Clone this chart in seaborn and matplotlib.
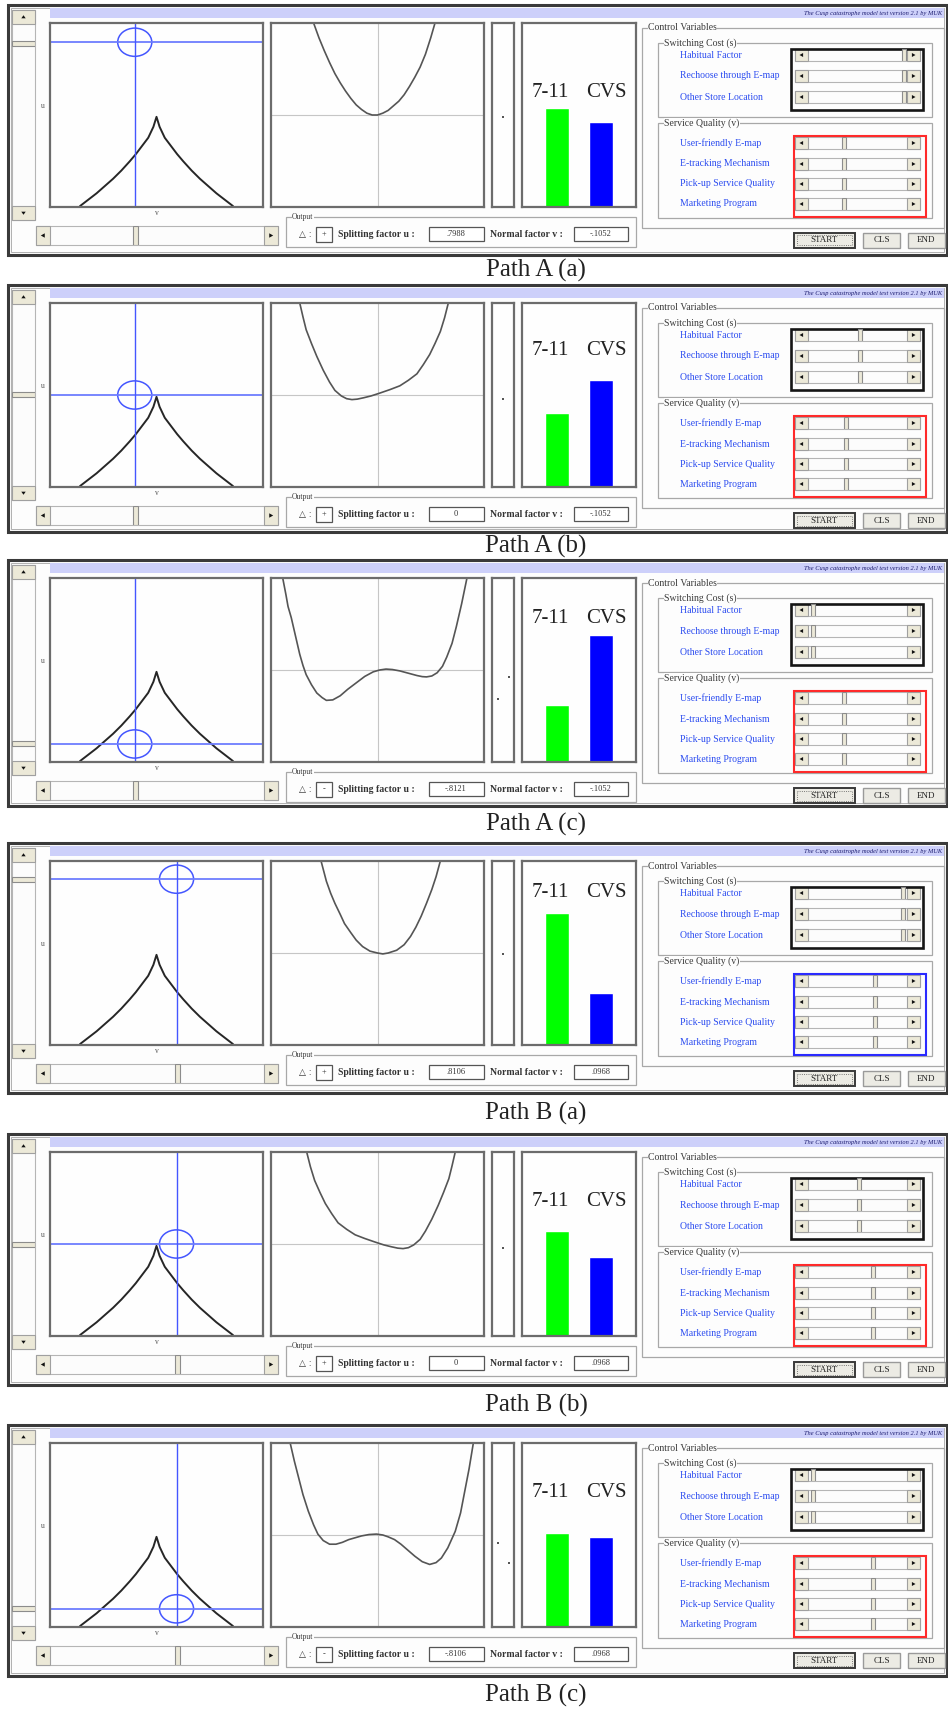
import numpy as np
import pandas as pd
import matplotlib
matplotlib.use("Agg")
from matplotlib import pyplot as plt
from matplotlib.patches import Rectangle, Ellipse, Polygon
import seaborn as sns

# Read-outs of the six screenshots:
captions = ["Path A (a)", "Path A (b)", "Path A (c)", "Path B (a)", "Path B (b)", "Path B (c)"]
u_values = [0.7988, 0.0, -0.8121, 0.8106, 0.0, -0.8106]
v_values = [-0.1052, -0.1052, -0.1052, 0.0968, 0.0968, 0.0968]
u_text = [".7988", "0", "-.8121", ".8106", "0", "-.8106"]
v_text = ["-.1052", "-.1052", "-.1052", ".0968", ".0968", ".0968"]
delta_sign = ["+", "+", "-", "+", "+", "-"]

# market share bars
stores = ["7-11", "CVS"]
share_711 = [0.54, 0.40, 0.31, 0.72, 0.57, 0.51]
share_cvs = [0.46, 0.58, 0.69, 0.28, 0.43, 0.49]
label_level = [0.62, 0.74, 0.78, 0.83, 0.73, 0.73]

# slider settings in the control panel (0 = left end, 1 = right end)
switch_labels = ["Habitual Factor", "Rechoose through E-map", "Other Store Location"]
service_labels = ["User-friendly E-map", "E-tracking Mechanism", "Pick-up Service Quality", "Marketing Program"]
switch_pos = [0.97, 0.53, 0.05, 0.96, 0.52, 0.05]
service_pos = [0.36, 0.38, 0.36, 0.68, 0.66, 0.66]
service_box = ["#ff2a2a", "#ff2a2a", "#ff2a2a", "#2a2aff", "#ff2a2a", "#ff2a2a"]

# bifurcation set
cusp_v = [-0.37, -0.33, -0.29, -0.25, -0.21, -0.17, -0.13, -0.10, -0.07, -0.04, -0.015, 0.0,
          0.015, 0.04, 0.07, 0.10, 0.13, 0.17, 0.21, 0.25, 0.29, 0.33, 0.37]
cusp_u = [-1.0, -0.93, -0.86, -0.78, -0.70, -0.61, -0.51, -0.43, -0.34, -0.25, -0.13, -0.02,
          -0.13, -0.25, -0.34, -0.43, -0.51, -0.61, -0.70, -0.78, -0.86, -0.93, -1.0]

# potential curves (box scaled to -1..1)
pot_aa_x = [-0.60, -0.55, -0.50, -0.45, -0.40, -0.35, -0.30, -0.25, -0.20, -0.15, -0.10, -0.05,
            0.0, 0.05, 0.10, 0.15, 0.20, 0.25, 0.30, 0.35, 0.40, 0.45, 0.50, 0.54]
pot_aa_y = [1.0, 0.84, 0.70, 0.57, 0.45, 0.35, 0.26, 0.18, 0.11, 0.06, 0.02, 0.0,
            0.0, 0.02, 0.05, 0.10, 0.15, 0.22, 0.31, 0.41, 0.52, 0.66, 0.84, 1.0]
pot_ab_x = [-0.73, -0.70, -0.67, -0.62, -0.57, -0.51, -0.45, -0.40, -0.34, -0.29, -0.24, -0.19,
            -0.13, -0.06, 0.02, 0.12, 0.21, 0.29, 0.37, 0.43, 0.49, 0.54, 0.59, 0.63, 0.665]
pot_ab_y = [1.0, 0.85, 0.71, 0.56, 0.42, 0.27, 0.14, 0.05, -0.01, -0.04, -0.05, -0.045,
            -0.03, -0.01, 0.02, 0.06, 0.10, 0.16, 0.23, 0.33, 0.44, 0.56, 0.69, 0.84, 1.0]
pot_ac_x = [-0.89, -0.86, -0.84, -0.81, -0.79, -0.76, -0.73, -0.70, -0.67, -0.62, -0.57, -0.52,
            -0.48, -0.42, -0.35, -0.28, -0.20, -0.12, -0.04, 0.02, 0.08, 0.14, 0.21, 0.29,
            0.37, 0.42, 0.46, 0.51, 0.56, 0.61, 0.65, 0.70, 0.74, 0.79, 0.84]
pot_ac_y = [1.0, 0.82, 0.69, 0.57, 0.47, 0.32, 0.17, 0.05, -0.05, -0.16, -0.25, -0.30,
            -0.33, -0.325, -0.28, -0.21, -0.14, -0.07, -0.02, 0.0, 0.01, 0.005, -0.01, -0.035,
            -0.06, -0.072, -0.075, -0.065, -0.03, 0.04, 0.14, 0.29, 0.47, 0.72, 1.0]
pot_ba_x = [-0.53, -0.48, -0.44, -0.40, -0.35, -0.31, -0.25, -0.20, -0.14, -0.07, 0.0, 0.05,
            0.10, 0.18, 0.25, 0.31, 0.36, 0.41, 0.46, 0.51, 0.55, 0.59]
pot_ba_y = [1.0, 0.78, 0.65, 0.54, 0.42, 0.32, 0.22, 0.14, 0.07, 0.02, 0.0, -0.01,
            0.0, 0.03, 0.09, 0.18, 0.28, 0.40, 0.54, 0.69, 0.83, 1.0]
pot_bb_x = [-0.665, -0.63, -0.59, -0.54, -0.49, -0.43, -0.37, -0.29, -0.21, -0.12, -0.02, 0.06,
            0.13, 0.19, 0.24, 0.29, 0.34, 0.40, 0.45, 0.51, 0.57, 0.62, 0.67, 0.70, 0.73]
pot_bb_y = [1.0, 0.84, 0.69, 0.56, 0.44, 0.33, 0.23, 0.16, 0.10, 0.06, 0.02, -0.01,
            -0.03, -0.045, -0.05, -0.04, -0.01, 0.05, 0.14, 0.27, 0.42, 0.56, 0.71, 0.85, 1.0]
pot_bc_x = [-0.82, -0.78, -0.74, -0.70, -0.65, -0.60, -0.56, -0.51, -0.45, -0.39, -0.33, -0.27,
            -0.21, -0.15, -0.08, -0.01, 0.05, 0.10, 0.16, 0.22, 0.28, 0.35, 0.42, 0.49,
            0.55, 0.60, 0.66, 0.73, 0.78, 0.82, 0.86, 0.90]
pot_bc_y = [1.0, 0.80, 0.62, 0.44, 0.26, 0.11, 0.01, -0.06, -0.10, -0.10, -0.08, -0.05,
            -0.03, -0.01, 0.005, 0.01, 0.0, -0.02, -0.05, -0.10, -0.16, -0.23, -0.29, -0.32,
            -0.30, -0.25, -0.14, 0.04, 0.24, 0.48, 0.72, 1.0]
pot_x = [pot_aa_x, pot_ab_x, pot_ac_x, pot_ba_x, pot_bb_x, pot_bc_x]
pot_y = [pot_aa_y, pot_ab_y, pot_ac_y, pot_ba_y, pot_bb_y, pot_bc_y]

# well depths shown as dots in the narrow strip (-1 left well, 0 single, 1 right well)
well_side = [[0], [0], [-1, 1], [0], [0], [-1, 1]]
well_depth = [[-0.02], [-0.04], [-0.32, -0.08], [-0.01], [-0.04], [-0.09, -0.30]]

title = "The Cusp catastrophe model test version 2.1 by MUK"

# layout (pixels)
panel_top = [5, 285, 560, 843, 1134, 1425]
panel_h = [250, 247, 246, 250, 251, 251]
caption_y = [270, 546, 824, 1113, 1405, 1695]
W, H = 948, 1710

sns.set_style("white")
plt.rcParams['font.family'] = ['Liberation Serif', 'DejaVu Sans']

fig = plt.figure(figsize=(W / 100, H / 100), dpi=100)
fig.patch.set_facecolor("white")
bg = fig.add_axes([0, 0, 1, 1])
bg.set_xlim(0, W)
bg.set_ylim(H, 0)
bg.axis("off")

cross_c = "#4456ff"


def rect(x0, y0, x1, y1, fc="none", ec="#7a7a7a", lw=1.0, z=1, ls="-"):
    bg.add_patch(Rectangle((x0, y0), x1 - x0, y1 - y0, fc=fc, ec=ec, lw=lw, zorder=z, ls=ls))


def px_axes(x0, y0, x1, y1):
    return fig.add_axes([x0 / W, 1 - y1 / H, (x1 - x0) / W, (y1 - y0) / H])


def box_style(ax):
    ax.set_xticks([])
    ax.set_yticks([])
    ax.set_xlabel("")
    ax.set_ylabel("")
    ax.set_facecolor("#fefefe")
    for s in ax.spines.values():
        s.set_color("#6c6c6c")
        s.set_linewidth(1.6)


def arrow_btn(x0, y0, x1, y1, direction, s=2.2):
    rect(x0, y0, x1, y1, fc="#ece9d8", ec="#a0a0a0", lw=0.8, z=3)
    cx, cy = (x0 + x1) / 2, (y0 + y1) / 2
    if direction == "left":
        pts = [(cx - s, cy), (cx + s * 0.8, cy - s), (cx + s * 0.8, cy + s)]
    elif direction == "right":
        pts = [(cx + s, cy), (cx - s * 0.8, cy - s), (cx - s * 0.8, cy + s)]
    elif direction == "up":
        pts = [(cx, cy - s * 0.8), (cx - s, cy + s * 0.6), (cx + s, cy + s * 0.6)]
    else:
        pts = [(cx, cy + s * 0.8), (cx - s, cy - s * 0.6), (cx + s, cy - s * 0.6)]
    bg.add_patch(Polygon(pts, closed=True, fc="#111111", ec="none", zorder=4))


def scrollbar(x0, y0, x1, y1, value, lim, arrow, vertical=False, thumb=2.5, s=2.2):
    rect(x0, y0, x1, y1, fc="#fcfcfc", ec="#b5b5b5", lw=0.8, z=2)
    if vertical:
        arrow_btn(x0, y0, x1, y0 + arrow, "up", s)
        arrow_btn(x0, y1 - arrow, x1, y1, "down", s)
        ax = px_axes(x0, y0 + arrow, x1, y1 - arrow)
        ax.set_ylim(lim)
        half = thumb * (lim[1] - lim[0]) / (y1 - y0 - 2 * arrow)
        ax.axhspan(value - half, value + half, fc="#ece9d8", ec="#8c8c8c", lw=0.8)
    else:
        arrow_btn(x0, y0, x0 + arrow, y1, "left", s)
        arrow_btn(x1 - arrow, y0, x1, y1, "right", s)
        ax = px_axes(x0 + arrow, y0, x1 - arrow, y1)
        ax.set_xlim(lim)
        half = thumb * (lim[1] - lim[0]) / (x1 - x0 - 2 * arrow)
        ax.axvspan(value - half, value + half, fc="#ece9d8", ec="#8c8c8c", lw=0.8)
    ax.set_axis_off()


def group(x0, y0, x1, y1, label, fs=7):
    rect(x0, y0, x1, y1, ec="#a8a8a8", lw=0.9)
    bg.text(x0 + 6, y0, label, fontsize=fs, color="#3a3a3a", va="center", ha="left",
            bbox=dict(fc="#fdfdfd", ec="none", pad=0.3), zorder=5)


for i in range(6):
    T = panel_top[i]
    u, v = u_values[i], v_values[i]

    # window
    rect(8, T, 947, T + panel_h[i], fc="#fdfdfd", ec="#3a3a3a", lw=2.2, z=0)
    rect(11, T + 3, 944, T + panel_h[i] - 3, ec="#b0b0b0", lw=0.7, z=0)
    rect(50, T + 3, 944, T + 13, fc="#cdd0fa", ec="none")
    bg.text(942, T + 8.5, title, fontsize=4.6, style="italic", color="#1c1c70",
            ha="right", va="center")

    # u-v control plane with bifurcation set
    ax = px_axes(50, T + 18, 263, T + 202)
    sns.lineplot(x=cusp_v, y=cusp_u, sort=False, estimator=None, color="#262626", lw=1.4, ax=ax)
    ax.axhline(u, color="#6d7dff", lw=1.3)
    ax.axvline(v, color=cross_c, lw=1.0)
    ax.add_patch(Ellipse((v, u), 0.165, 0.31, fill=False, ec=cross_c, lw=1.1))
    ax.set_xlim(-0.515, 0.515)
    ax.set_ylim(-1.01, 1.01)
    box_style(ax)
    bg.text(43, T + 101, "u", fontsize=5.5, color="#555555", ha="center", va="center")
    bg.text(157, T + 208, "v", fontsize=5.5, color="#555555", ha="center", va="center")

    scrollbar(12, T + 5, 35, T + 215, u, (-1.01, 1.01), 14, vertical=True)
    scrollbar(36, T + 221, 278, T + 240, v, (-0.515, 0.515), 14)

    # potential function
    ax = px_axes(271, T + 18, 484, T + 202)
    ax.axhline(0, color="#c6c6c6", lw=0.8)
    ax.axvline(0, color="#c6c6c6", lw=0.8)
    sns.lineplot(x=pot_x[i], y=pot_y[i], sort=False, estimator=None, color="#555555", lw=1.2, ax=ax)
    ax.set_xlim(-1, 1)
    ax.set_ylim(-1, 1)
    box_style(ax)

    # well depth strip
    ax = px_axes(492, T + 18, 514, T + 202)
    sns.scatterplot(x=well_side[i], y=well_depth[i], color="#555555", s=3, marker="s",
                    linewidth=0, ax=ax)
    ax.set_xlim(-2, 2)
    ax.set_ylim(-1, 1)
    box_style(ax)

    # market share bars
    ax = px_axes(522, T + 18, 636, T + 202)
    df = pd.DataFrame({"store": stores, "share": [share_711[i], share_cvs[i]]})
    sns.barplot(data=df, x="store", y="share", hue="store", palette=["#00ff00", "#0000ff"],
                saturation=1, width=0.55, legend=False, ax=ax)
    ax.set_xlim(-0.8, 1.8)
    ax.set_ylim(0, 1)
    box_style(ax)
    for j, name in enumerate(stores):
        ax.text(j + [-0.16, 0.13][j], label_level[i], name, ha="center", va="center",
                fontsize=15, color="#222222")

    # output box
    group(286, T + 212, 636, T + 242, "Output", fs=5.5)
    bg.text(299, T + 229.5, "△ :", fontsize=6.5, color="#333333", va="center",
            family=["DejaVu Sans"])
    rect(316, T + 222, 332, T + 237, fc="white", ec="#555555", lw=0.9)
    bg.text(324, T + 229.5, delta_sign[i], fontsize=6, ha="center", va="center", color="#222222")
    bg.text(338, T + 229.5, "Splitting factor u :", fontsize=7, color="#333333", va="center",
            weight="bold")
    rect(429, T + 222, 484, T + 236, fc="white", ec="#555555", lw=0.9)
    bg.text(456, T + 229, u_text[i], fontsize=6, ha="center", va="center", color="#333333")
    bg.text(490, T + 229.5, "Normal factor v :", fontsize=7, color="#333333", va="center",
            weight="bold")
    rect(574, T + 222, 628, T + 236, fc="white", ec="#555555", lw=0.9)
    bg.text(601, T + 229, v_text[i], fontsize=6, ha="center", va="center", color="#333333")

    # control variables
    group(642, T + 23, 944, T + 223, "Control Variables")
    group(658, T + 38, 932, T + 112, "Switching Cost (s)")
    group(658, T + 118, 932, T + 213, "Service Quality (v)")
    for row, lab in zip([50, 71, 92], switch_labels):
        bg.text(680, T + row, lab, fontsize=7, color="#2b4cf0", va="center")
        scrollbar(795, T + row - 6, 920, T + row + 6, switch_pos[i], (0, 1), 13, thumb=2.0, s=2.0)
    for row, lab in zip([138, 159, 179, 199], service_labels):
        bg.text(680, T + row, lab, fontsize=7, color="#2b4cf0", va="center")
        scrollbar(795, T + row - 6, 920, T + row + 6, service_pos[i], (0, 1), 13, thumb=2.0, s=2.0)
    rect(791, T + 44, 923, T + 105, ec="#151515", lw=1.9, z=6)
    rect(794, T + 131, 926, T + 212, ec=service_box[i], lw=1.5, z=6)

    # buttons
    rect(794, T + 228, 855, T + 243, fc="#ecebe4", ec="#3a3a3a", lw=1.4)
    rect(797, T + 230.5, 852, T + 240.5, ec="#555555", lw=0.6, ls=":")
    bg.text(824.5, T + 235.5, "START", fontsize=6.5, ha="center", va="center", color="#222222")
    rect(863, T + 228, 900, T + 243, fc="#ecebe4", ec="#9a9a9a", lw=1.0)
    bg.text(881.5, T + 235.5, "CLS", fontsize=6.5, ha="center", va="center", color="#222222")
    rect(908, T + 228, 945, T + 243, fc="#ecebe4", ec="#9a9a9a", lw=1.0)
    bg.text(926.5, T + 235.5, "END", fontsize=6.5, ha="center", va="center", color="#222222")

    bg.text(536, caption_y[i], captions[i], fontsize=18, ha="center", va="center", color="#222222")

fig.savefig("out.png", dpi=100, facecolor="white")
